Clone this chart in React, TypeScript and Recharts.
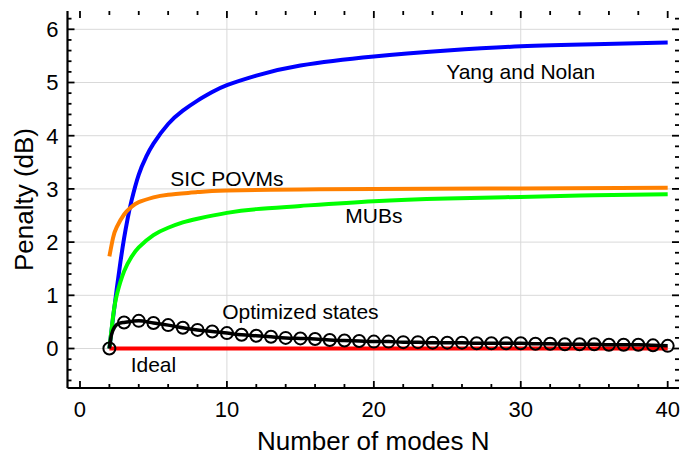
import React from "react";
import { LineChart, Line, XAxis, YAxis, CartesianGrid, ReferenceDot, ReferenceLine } from "recharts";

// Yang and Nolan
const yangN = [2, 2.25, 2.5, 2.75, 3, 3.25, 3.5, 4, 4.5, 5, 6, 7, 8, 9, 10, 12, 15, 20, 25, 30, 35, 40];
const yangPenalty = [0, 0.58, 1.12, 1.62, 2.07, 2.45, 2.77, 3.27, 3.6, 3.85, 4.22, 4.47, 4.66, 4.82, 4.95, 5.13, 5.32, 5.49, 5.6, 5.68, 5.72, 5.75];

// SIC POVMs
const sicN = [2, 2.25, 2.5, 3, 3.5, 4, 5, 6, 8, 10, 15, 20, 30, 40];
const sicPenalty = [1.73, 2.08, 2.28, 2.52, 2.66, 2.75, 2.84, 2.89, 2.94, 2.97, 2.99, 3.0, 3.01, 3.02];

// MUBs
const mubN = [2, 2.25, 2.5, 3, 3.5, 4, 5, 6, 7, 8, 10, 12, 15, 20, 25, 30, 35, 40];
const mubPenalty = [0, 0.6, 1.0, 1.45, 1.72, 1.9, 2.13, 2.27, 2.37, 2.44, 2.55, 2.62, 2.68, 2.77, 2.82, 2.85, 2.88, 2.9];

// Optimized states: markers at each N
const optN = [2, 3, 4, 5, 6, 7, 8, 9, 10, 11, 12, 13, 14, 15, 16, 17, 18, 19, 20, 21,
  22, 23, 24, 25, 26, 27, 28, 29, 30, 31, 32, 33, 34, 35, 36, 37, 38, 39, 40];
const optPenalty = [0, 0.49, 0.52, 0.48, 0.44, 0.39, 0.35, 0.32, 0.29, 0.26, 0.24, 0.22, 0.2, 0.19, 0.18, 0.16, 0.15, 0.14, 0.13, 0.13,
  0.12, 0.12, 0.11, 0.11, 0.11, 0.1, 0.1, 0.1, 0.1, 0.09, 0.09, 0.08, 0.08, 0.08, 0.07, 0.07, 0.07, 0.06, 0.05];
// ...and the curve through them, which bends up sharply just after N = 2
const optCurveStartN = [2, 2.1, 2.2, 2.35, 2.5, 2.75];
const optCurveStartPenalty = [0, 0.2, 0.31, 0.4, 0.45, 0.48];

// Ideal
const idealN = [2, 40];
const idealPenalty = [0, 0];

const xTicks = [0, 2, 4, 6, 8, 10, 12, 14, 16, 18, 20, 22, 24, 26, 28, 30, 32, 34, 36, 38, 40];
const xLabels = [0, 10, 20, 30, 40];
const yTicks = [-0.6, -0.4, -0.2, 0, 0.2, 0.4, 0.6, 0.8, 1, 1.2, 1.4, 1.6, 1.8, 2, 2.2, 2.4, 2.6, 2.8, 3,
  3.2, 3.4, 3.6, 3.8, 4, 4.2, 4.4, 4.6, 4.8, 5, 5.2, 5.4, 5.6, 5.8, 6, 6.2];
const yLabels = [0, 1, 2, 3, 4, 5, 6];
const xGrid = [10, 20, 30];
const yGrid = [0, 1, 2, 3, 4, 5, 6];

const notes = ["Yang and Nolan", "SIC POVMs", "MUBs", "Optimized states", "Ideal"];
const noteX = [30, 10, 20, 15, 5];
const noteY = [5.2, 3.2, 2.5, 0.7, -0.3];

const FONT = '"Liberation Sans", Arial, sans-serif';
const TICK_FS = 22;
const TITLE_FS = 26;
const NOTE_FS = 21;

const W = 697;
const H = 460;
const M = { top: 11, right: 18, bottom: 0, left: 0 };
const Y_AXIS_W = 67.5;
const X_AXIS_H = 72;
const PLOT_W = W - M.left - M.right - Y_AXIS_W;
const PLOT_H = H - M.top - M.bottom - X_AXIS_H;

const xDomain = [-0.85, 40.77];
const yDomain = [-0.742, 6.344];
const xPerPx = (xDomain[1] - xDomain[0]) / PLOT_W;
const yPerPx = (yDomain[1] - yDomain[0]) / PLOT_H;

const MAJOR = 7;
const MINOR = 4;
const isMajor = (v: number, step: number) => Math.abs(v / step - Math.round(v / step)) < 1e-6;

const toPoints = (xs: number[], ys: number[]) => xs.map((n, i) => ({ n, p: ys[i] }));
const tickFont = { fontSize: TICK_FS, fontFamily: FONT, fill: "#000" };
const frame = { stroke: "#000", strokeWidth: 2.2 };

// inward frame ticks on all four sides
const frameTicks = [
  ...xTicks.flatMap((t) => {
    const len = (isMajor(t, 10) ? MAJOR : MINOR) * yPerPx;
    return [
      [{ x: t, y: yDomain[0] }, { x: t, y: yDomain[0] + len }],
      [{ x: t, y: yDomain[1] }, { x: t, y: yDomain[1] - len }],
    ];
  }),
  ...yTicks.flatMap((t) => {
    const len = (isMajor(t, 1) ? MAJOR : MINOR) * xPerPx;
    return [
      [{ x: xDomain[0], y: t }, { x: xDomain[0] + len, y: t }],
      [{ x: xDomain[1], y: t }, { x: xDomain[1] - len, y: t }],
    ];
  }),
];

export default function App() {
  return (
    <div style={{ width: W, height: H }}>
      <style>{"body{margin:0}"}</style>
      <LineChart width={W} height={H} margin={M}>
        <CartesianGrid stroke="#d9d9d9" strokeWidth={1} horizontalValues={yGrid} verticalValues={xGrid} />

        <XAxis
          type="number"
          dataKey="n"
          domain={xDomain}
          allowDataOverflow
          ticks={xLabels}
          interval={0}
          height={X_AXIS_H}
          tickSize={0}
          tickMargin={13}
          tickLine={false}
          axisLine={frame}
          tick={tickFont}
          label={{ value: "Number of modes N", position: "insideBottom", offset: 10, fontSize: TITLE_FS, fontFamily: FONT, fill: "#000" }}
        />
        <XAxis
          xAxisId="top"
          orientation="top"
          type="number"
          dataKey="n"
          domain={xDomain}
          allowDataOverflow
          ticks={xLabels}
          height={0}
          tickLine={false}
          axisLine={frame}
          tick={false}
        />
        <YAxis
          type="number"
          domain={yDomain}
          allowDataOverflow
          ticks={yLabels}
          interval={0}
          width={Y_AXIS_W}
          tickSize={0}
          tickMargin={9}
          tickLine={false}
          axisLine={frame}
          tick={tickFont}
          label={{
            content: ({ viewBox }: any) => (
              <text
                x={33}
                y={viewBox.y + viewBox.height / 2}
                transform={`rotate(-90 33 ${viewBox.y + viewBox.height / 2})`}
                textAnchor="middle"
                fontSize={TITLE_FS}
                fontFamily={FONT}
                fill="#000"
              >
                Penalty (dB)
              </text>
            ),
          }}
        />
        <YAxis
          yAxisId="right"
          orientation="right"
          type="number"
          domain={yDomain}
          allowDataOverflow
          ticks={yLabels}
          width={0}
          tickLine={false}
          axisLine={frame}
          tick={false}
        />

        {frameTicks.map((seg, i) => (
          <ReferenceLine key={i} segment={seg} stroke="#000" strokeWidth={1.8} ifOverflow="visible" />
        ))}

        <Line data={toPoints(yangN, yangPenalty)} dataKey="p" type="natural" stroke="#0000ff" strokeWidth={4} dot={false} isAnimationActive={false} />
        <Line data={toPoints(mubN, mubPenalty)} dataKey="p" type="natural" stroke="#00ff00" strokeWidth={4} dot={false} isAnimationActive={false} />
        <Line data={toPoints(sicN, sicPenalty)} dataKey="p" type="natural" stroke="#ff8000" strokeWidth={4} dot={false} isAnimationActive={false} />
        <Line data={toPoints(idealN, idealPenalty)} dataKey="p" type="linear" stroke="#ff0000" strokeWidth={4} dot={false} isAnimationActive={false} />
        <Line
          data={toPoints([...optCurveStartN, ...optN.slice(1)], [...optCurveStartPenalty, ...optPenalty.slice(1)])}
          dataKey="p"
          type="monotone"
          stroke="#000"
          strokeWidth={3.5}
          dot={false}
          isAnimationActive={false}
        />
        <Line
          data={toPoints(optN, optPenalty)}
          dataKey="p"
          type="linear"
          stroke="none"
          dot={{ r: 6, stroke: "#000", strokeWidth: 2, fill: "none" }}
          isAnimationActive={false}
        />

        {notes.map((t, i) => (
          <ReferenceDot
            key={t}
            x={noteX[i]}
            y={noteY[i]}
            r={0}
            ifOverflow="visible"
            shape={(p: any) => (
              <text x={p.cx} y={p.cy} textAnchor="middle" dominantBaseline="central" fontSize={NOTE_FS} fontFamily={FONT} fill="#000">
                {t}
              </text>
            )}
          />
        ))}
      </LineChart>
    </div>
  );
}
